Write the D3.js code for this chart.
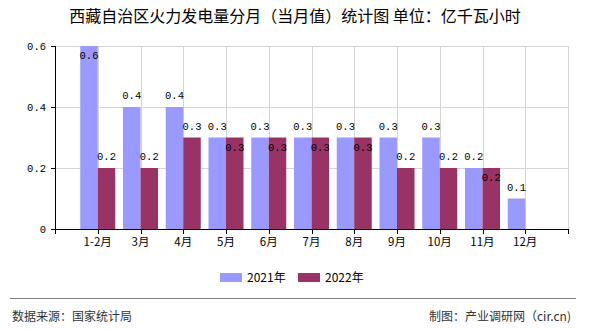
<!DOCTYPE html>
<html><head><meta charset="utf-8">
<script src="https://cdn.jsdelivr.net/npm/d3@7"></script>
<style>body{margin:0;background:#fff}svg{display:block}</style>
</head><body>
<script>
const categories = ["1-2月","3月","4月","5月","6月","7月","8月","9月","10月","11月","12月"];
const values2021 = [0.6,0.4,0.4,0.3,0.3,0.3,0.3,0.3,0.3,0.2,0.1];
const values2022 = [0.2,0.2,0.3,0.3,0.3,0.3,0.3,0.2,0.2,0.2,null];
const seriesNames = ["2021年","2022年"];
const yTicks = [0,0.2,0.4,0.6];
const titleText = "西藏自治区火力发电量分月（当月值）统计图 单位：亿千瓦小时";
const sourceText = "数据来源：国家统计局";
const creditText = "制图：产业调研网（cir.cn)";

(function(){
const W=590,H=330;
const colors=["#9999ff","#993366"];
const svg=d3.select("body").append("svg").attr("width",W).attr("height",H);
const pL=55,pR=568,pT=46,pB=229;
const step=(pR-pL)/12;
const x=d3.scaleBand().domain(categories).range([pL+step/2,pR-step/2]);
const y=d3.scaleLinear().domain([0,0.6]).range([pB,pT]);
const cx=c=>x(c)+x.bandwidth()/2;
const bw=17.5;
const monoFont="'Liberation Mono','DejaVu Sans Mono',monospace";
const cjk="'Noto Sans CJK SC','Noto Sans',sans-serif";

svg.append("text").attr("x",295).attr("y",22).attr("text-anchor","middle")
  .attr("font-family",cjk).attr("font-size",16).attr("fill","#000").text(titleText);

const g=svg.append("g");
g.selectAll("line.h").data(yTicks.filter(d=>d>0)).join("line")
  .attr("x1",pL).attr("x2",pR).attr("y1",d=>Math.round(y(d))+0.5).attr("y2",d=>Math.round(y(d))+0.5)
  .attr("stroke","#d4d4d4");
g.selectAll("line.v").data(categories).join("line")
  .attr("x1",d=>Math.round(cx(d))+0.5).attr("x2",d=>Math.round(cx(d))+0.5)
  .attr("y1",pT).attr("y2",pB).attr("stroke","#d4d4d4");
g.append("line").attr("x1",pR+0.5).attr("x2",pR+0.5).attr("y1",pT).attr("y2",pB).attr("stroke","#d4d4d4");

const data=categories.map((c,i)=>({c,a:values2021[i],b:values2022[i]}));
svg.append("g").selectAll("rect").data(data).join("rect")
  .attr("x",d=>cx(d.c)-bw).attr("width",bw)
  .attr("y",d=>y(d.a)).attr("height",d=>pB-y(d.a)).attr("fill",colors[0]);
svg.append("g").selectAll("rect").data(data.filter(d=>d.b!=null)).join("rect")
  .attr("x",d=>cx(d.c)).attr("width",bw)
  .attr("y",d=>y(d.b)).attr("height",d=>pB-y(d.b)).attr("fill",colors[1]);

const lab=svg.append("g").attr("font-family",monoFont).attr("font-size",10.5).attr("fill","#000").attr("text-anchor","middle");
lab.append("g").selectAll("text").data(data).join("text")
  .attr("x",d=>cx(d.c)-bw/2)
  .attr("y",d=>d.a>=0.6? y(d.a)+13 : y(d.a)-8)
  .text(d=>d.a.toFixed(1));
lab.append("g").selectAll("text").data(data.filter(d=>d.b!=null)).join("text")
  .attr("x",d=>cx(d.c)+bw/2)
  .attr("y",d=>d.b===d.a? y(d.b)+13 : y(d.b)-8)
  .text(d=>d.b.toFixed(1));

const ax=svg.append("g").attr("stroke","#000");
ax.append("line").attr("x1",pL+0.5).attr("x2",pL+0.5).attr("y1",pT).attr("y2",pB+1);
ax.append("line").attr("x1",pL).attr("x2",pR+1).attr("y1",pB+0.5).attr("y2",pB+0.5);
ax.append("g").selectAll("line").data(yTicks).join("line")
  .attr("x1",pL-4).attr("x2",pL).attr("y1",d=>Math.round(y(d))+0.5).attr("y2",d=>Math.round(y(d))+0.5);
const xt=[pL].concat(categories.map(cx)).concat([pR]);
ax.append("g").selectAll("line").data(xt).join("line")
  .attr("x1",d=>Math.round(d)+0.5).attr("x2",d=>Math.round(d)+0.5).attr("y1",pB).attr("y2",pB+5);

svg.append("g").attr("font-family",monoFont).attr("font-size",10.5).attr("text-anchor","end")
  .selectAll("text").data(yTicks).join("text")
  .attr("x",46).attr("y",d=>y(d)+4).text(d=>d===0?"0":d.toFixed(1));

svg.append("g").attr("font-family",cjk).attr("font-size",11.5).attr("text-anchor","middle")
  .selectAll("text").data(categories).join("text")
  .attr("x",d=>cx(d)).attr("y",246).text(d=>d);

const lg=svg.append("g").attr("font-family",cjk).attr("font-size",12);
const lx=[220,298];
seriesNames.forEach((n,i)=>{
  lg.append("rect").attr("x",lx[i]).attr("y",273).attr("width",22).attr("height",9).attr("fill",colors[i]);
  lg.append("text").attr("x",lx[i]+27).attr("y",282).text(n);
});

svg.append("line").attr("x1",10).attr("x2",576).attr("y1",298.5).attr("y2",298.5).attr("stroke","#808080");
svg.append("text").attr("x",12).attr("y",321).attr("font-family",cjk).attr("font-size",12).attr("fill","#333").text(sourceText);
svg.append("text").attr("x",571).attr("y",321).attr("text-anchor","end").attr("font-family",cjk).attr("font-size",12).attr("fill","#333").text(creditText);
})();
</script>
</body></html>
